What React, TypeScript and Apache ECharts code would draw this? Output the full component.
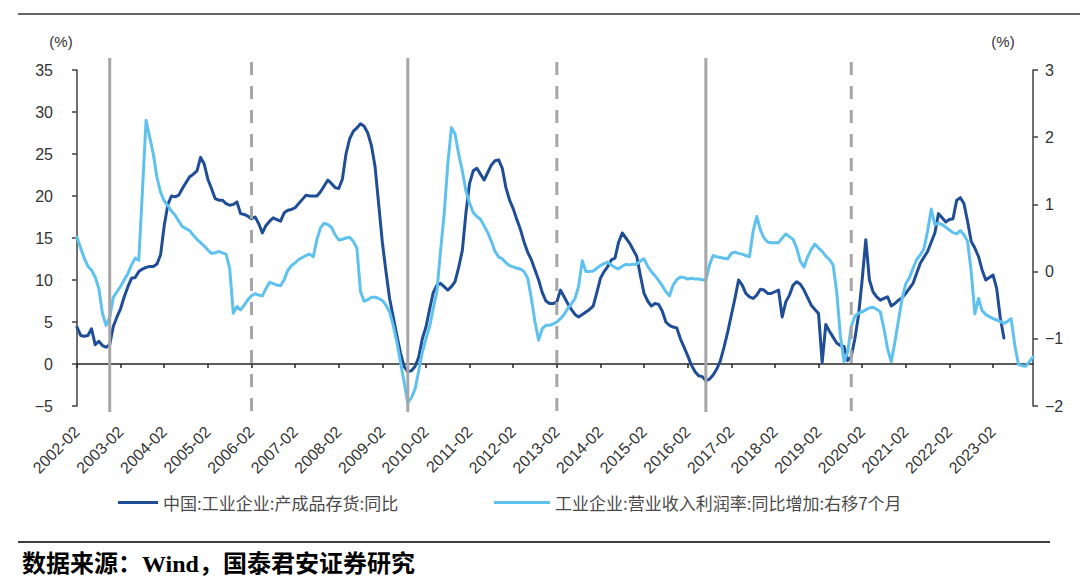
import React, { useEffect, useRef } from "react";
import * as echarts from "echarts";

const START_YEAR = 2002;
const START_MONTH = 2;
const MONTH_COUNT = 264;
const months: string[] = [];
for (let i = 0; i < MONTH_COUNT; i++) {
  const t = START_MONTH - 1 + i;
  const y = START_YEAR + Math.floor(t / 12);
  const m = (t % 12) + 1;
  months.push(`${y}-${String(m).padStart(2, "0")}`);
}

const seriesNames = ["中国:工业企业:产成品存货:同比", "工业企业:营业收入利润率:同比增加:右移7个月"];

// 产成品存货同比 (%), left axis, monthly from 2002-02
const inventoryYoY: (number | null)[] = [
  4.4, 3.4, 3.3, 3.4, 4.2, 2.3, 2.7, 2.2, 2.0, 2.3, 4.5, 5.6,
  6.6, 8.0, 9.2, 10.2, 10.3, 11.0, 11.3, 11.5, 11.6, 11.6, 11.9, 13.0,
  16.5, 19.0, 20.0, 19.9, 20.1, 20.9, 21.6, 22.3, 22.6, 23.0, 24.6, 23.8,
  22.0, 20.9, 19.7, 19.5, 19.5, 19.1, 18.9, 19.0, 19.3, 17.9, 17.8, 17.6,
  17.3, 17.5, 16.7, 15.6, 16.5, 17.0, 17.4, 17.2, 17.0, 18.0, 18.3, 18.4,
  18.6, 19.1, 19.6, 20.1, 20.0, 20.0, 20.0, 20.5, 21.2, 21.9, 21.5, 21.0,
  20.9, 22.0, 25.0, 26.8, 27.7, 28.1, 28.6, 28.3, 27.5, 26.0, 23.5, 19.0,
  14.5, 11.0, 7.8, 5.6, 3.4, 1.3, -0.3, -0.9, -0.8, -0.3, 0.8, 3.0,
  4.4, 6.5, 8.5, 9.4, 9.6, 9.2, 8.8, 9.2, 9.8, 11.5, 13.5, 18.0,
  21.5, 23.0, 23.3, 22.6, 21.9, 22.8, 23.7, 24.2, 24.3, 23.3, 21.0, 19.5,
  18.5, 17.2, 16.0, 14.5, 13.3, 12.4, 11.2, 10.0, 8.5, 7.5, 7.2, 7.2,
  7.4, 8.8, 8.0, 7.2, 6.5, 5.9, 5.6, 5.9, 6.2, 6.5, 6.9, 8.5,
  10.2, 11.0, 11.6, 12.4, 12.6, 14.5, 15.6, 15.0, 14.4, 13.6, 12.8, 10.5,
  8.4, 7.5, 6.9, 7.2, 7.1, 6.3, 5.0, 4.6, 4.4, 4.3, 3.0, 2.0,
  1.0, -0.1, -0.9, -1.4, -1.5, -2.0, -1.8, -1.3, -0.6, 0.4, 2.0, 3.8,
  5.8, 7.8, 10.0, 9.4, 8.4, 8.0, 7.8, 8.2, 8.9, 8.8, 8.4, 8.4,
  8.6, 8.8, 5.6, 7.4, 8.2, 9.4, 9.8, 9.5, 8.8, 7.9, 7.0, 6.5,
  6.0, 0.2, 4.7, 3.9, 3.2, 2.5, 2.2, 2.1, 0.4, 0.9, 3.0, 5.8,
  10.0, 14.8, 10.0, 8.6, 8.0, 7.6, 7.8, 8.0, 6.9, 7.2, 7.6, 7.9,
  8.4, 9.0, 9.6, 10.8, 12.0, 12.7, 13.4, 14.5, 15.6, 17.9, 17.4, 16.9,
  17.2, 17.3, 19.5, 19.8, 19.1, 17.0, 14.6, 13.8, 12.8, 11.2, 10.0, 10.3,
  10.6, 9.0, 5.5, 3.1,
];

// 营业收入利润率同比增加 (pct), right axis, shifted 7 months
const marginChange: number[] = [
  0.51, 0.35, 0.20, 0.08, 0.02, -0.08, -0.25, -0.62, -0.80, -0.68, -0.38, -0.30,
  -0.22, -0.12, -0.03, 0.10, 0.20, 0.17, 1.20, 2.25, 2.00, 1.75, 1.40, 1.18,
  1.05, 0.98, 0.90, 0.84, 0.75, 0.67, 0.64, 0.61, 0.54, 0.48, 0.43, 0.38,
  0.32, 0.27, 0.28, 0.30, 0.28, 0.26, 0.05, -0.62, -0.52, -0.57, -0.50, -0.42,
  -0.36, -0.33, -0.35, -0.36, -0.25, -0.16, -0.18, -0.20, -0.21, -0.12, 0.02, 0.09,
  0.13, 0.18, 0.21, 0.24, 0.26, 0.22, 0.48, 0.65, 0.72, 0.70, 0.66, 0.55,
  0.47, 0.48, 0.50, 0.51, 0.45, 0.35, -0.30, -0.44, -0.42, -0.38, -0.38, -0.40,
  -0.43, -0.50, -0.60, -0.80, -1.05, -1.35, -1.65, -1.95, -1.88, -1.75, -1.48, -1.20,
  -1.00, -0.82, -0.55, -0.30, 0.30, 0.85, 1.60, 2.14, 2.05, 1.75, 1.50, 1.20,
  1.02, 0.88, 0.82, 0.78, 0.68, 0.58, 0.45, 0.30, 0.22, 0.19, 0.13, 0.09,
  0.07, 0.05, 0.04, 0.00, -0.10, -0.40, -0.75, -1.02, -0.85, -0.80, -0.80, -0.78,
  -0.75, -0.70, -0.64, -0.55, -0.48, -0.40, -0.22, 0.16, 0.00, 0.00, 0.01, 0.05,
  0.09, 0.12, 0.14, 0.10, 0.06, 0.04, 0.08, 0.11, 0.10, 0.11, 0.11, 0.16,
  0.19, 0.08, 0.00, -0.06, -0.13, -0.21, -0.30, -0.36, -0.20, -0.12, -0.08, -0.09,
  -0.11, -0.10, -0.11, -0.11, -0.12, -0.13, 0.10, 0.24, 0.22, 0.21, 0.20, 0.19,
  0.27, 0.29, 0.27, 0.26, 0.24, 0.22, 0.60, 0.82, 0.62, 0.50, 0.44, 0.43,
  0.43, 0.43, 0.50, 0.56, 0.52, 0.48, 0.35, 0.15, 0.07, 0.22, 0.33, 0.41,
  0.35, 0.30, 0.23, 0.18, 0.10, -0.30, -0.95, -1.34, -1.20, -0.82, -0.66, -0.62,
  -0.60, -0.57, -0.54, -0.53, -0.56, -0.60, -0.85, -1.15, -1.34, -1.05, -0.72, -0.40,
  -0.18, -0.09, 0.05, 0.18, 0.25, 0.34, 0.60, 0.93, 0.70, 0.72, 0.70, 0.66,
  0.62, 0.58, 0.56, 0.61, 0.55, 0.45, 0.00, -0.63, -0.40, -0.58, -0.64, -0.67,
  -0.70, -0.72, -0.74, -0.77, -0.74, -0.70, -1.10, -1.38, -1.40, -1.41, -1.34, -1.27,
];

const solidMarkers = ["2002-11", "2009-09", "2016-07"];
const dashedMarkers = ["2006-02", "2013-02", "2019-11"];

const DARK = "#1F4E96";
const LIGHT = "#5EC1EE";
const GRAY = "#A6A6A6";
const AXIS = "#404040";
const LATIN = "'Liberation Sans', Arial, sans-serif";
const CJK = "'Noto Sans CJK SC', sans-serif";

const minus = (v: number) => String(v).replace("-", "\u2212");

export default function App() {
  const ref = useRef<HTMLDivElement>(null);
  useEffect(() => {
    if (!ref.current) return;
    const chart = echarts.init(ref.current, null, { renderer: "svg" });
    chart.setOption({
      animation: false,
      backgroundColor: "#ffffff",
      grid: { left: 77, right: 47, top: 70, bottom: 180, containLabel: false },
      legend: [
        {
          data: [seriesNames[0]],
          left: 113,
          top: 489,
          icon: "rect",
          itemWidth: 40,
          itemHeight: 3,
          itemGap: 5,
          textStyle: { fontFamily: CJK, fontSize: 17, color: "#4a4a4a" },
        },
        {
          data: [seriesNames[1]],
          left: 489,
          top: 489,
          icon: "rect",
          itemWidth: 56,
          itemHeight: 3,
          itemGap: 5,
          textStyle: { fontFamily: CJK, fontSize: 17, color: "#4a4a4a" },
        },
      ],
      xAxis: [
        {
          type: "category",
          data: months,
          boundaryGap: false,
          position: "bottom",
          axisLine: { onZero: true, onZeroAxisIndex: 0, lineStyle: { color: "#262626", width: 1.5 } },
          axisTick: { show: true, interval: 11, length: 4, lineStyle: { color: "#262626", width: 1.5 } },
          axisLabel: { show: false },
          splitLine: { show: false },
        },
        {
          type: "category",
          data: months,
          boundaryGap: false,
          position: "bottom",
          axisLine: { show: false, onZero: false },
          axisTick: { show: false },
          axisLabel: {
            show: true,
            interval: 11,
            rotate: 45,
            margin: 23,
            fontFamily: LATIN,
            fontSize: 16,
            color: "#333333",
          },
          splitLine: { show: false },
        },
      ],
      yAxis: [
        {
          type: "value",
          min: -5,
          max: 35,
          interval: 5,
          position: "left",
          axisLine: { show: true, lineStyle: { color: AXIS, width: 1.5 } },
          axisTick: { show: true, length: 5, lineStyle: { color: AXIS, width: 1.5 } },
          axisLabel: { margin: 24, fontFamily: LATIN, fontSize: 16, color: "#333333", formatter: minus },
          splitLine: { show: false },
        },
        {
          type: "value",
          min: -2,
          max: 3,
          interval: 1,
          position: "right",
          axisLine: { show: true, lineStyle: { color: AXIS, width: 1.5 } },
          axisTick: { show: true, length: 5, lineStyle: { color: AXIS, width: 1.5 } },
          axisLabel: { margin: 12, fontFamily: LATIN, fontSize: 16, color: "#333333", formatter: minus },
          splitLine: { show: false },
        },
      ],
      series: [
        {
          name: seriesNames[0],
          type: "line",
          xAxisIndex: 0,
          yAxisIndex: 0,
          data: inventoryYoY,
          showSymbol: false,
          symbol: "none",
          color: DARK,
          lineStyle: { color: DARK, width: 3, join: "round", cap: "round" },
          z: 3,
        },
        {
          name: seriesNames[1],
          type: "line",
          xAxisIndex: 0,
          yAxisIndex: 1,
          data: marginChange,
          showSymbol: false,
          symbol: "none",
          color: LIGHT,
          lineStyle: { color: LIGHT, width: 3, join: "round", cap: "round" },
          z: 4,
        },
      ],
    });

    const yTop = (chart.convertToPixel({ yAxisIndex: 0 }, 35) as number) - 12;
    const yBot = (chart.convertToPixel({ yAxisIndex: 0 }, -5) as number) + 6;
    const markerLines: any[] = [];
    solidMarkers.forEach((m) => {
      const x = chart.convertToPixel({ xAxisIndex: 0 }, m) as number;
      markerLines.push({
        type: "line",
        z: 100,
        shape: { x1: x, y1: yTop, x2: x, y2: yBot },
        style: { stroke: GRAY, lineWidth: 3 },
      });
    });
    dashedMarkers.forEach((m) => {
      const x = chart.convertToPixel({ xAxisIndex: 0 }, m) as number;
      markerLines.push({
        type: "line",
        z: 100,
        shape: { x1: x, y1: yTop + 4, x2: x, y2: yBot },
        style: { stroke: GRAY, lineWidth: 3, lineDash: [13, 11] },
      });
    });

    chart.setOption({
      graphic: [
        ...markerLines,
        {
          type: "line",
          shape: { x1: 18, y1: 14, x2: 1080, y2: 14 },
          style: { stroke: "#666666", lineWidth: 2 },
        },
        {
          type: "line",
          shape: { x1: 18, y1: 542, x2: 1050, y2: 542 },
          style: { stroke: "#404040", lineWidth: 2 },
        },
        {
          type: "text",
          x: 61,
          y: 41,
          style: { text: "(%)", fontFamily: LATIN, fontSize: 15, fill: "#333333", align: "center", verticalAlign: "middle" },
        },
        {
          type: "text",
          x: 1003,
          y: 41,
          style: { text: "(%)", fontFamily: LATIN, fontSize: 15, fill: "#333333", align: "center", verticalAlign: "middle" },
        },
        {
          type: "text",
          x: 22,
          y: 564,
          style: {
            text: "数据来源：Wind，国泰君安证券研究",
            fontFamily: "'Liberation Serif', 'Noto Sans CJK SC', serif",
            fontWeight: "bold",
            fontSize: 24,
            fill: "#000000",
            align: "left",
            verticalAlign: "middle",
          },
        },
      ],
    });

    return () => chart.dispose();
  }, []);

  return (
    <div
      ref={ref}
      style={{ position: "fixed", left: 0, top: 0, width: 1080, height: 586, background: "#fff" }}
    />
  );
}
